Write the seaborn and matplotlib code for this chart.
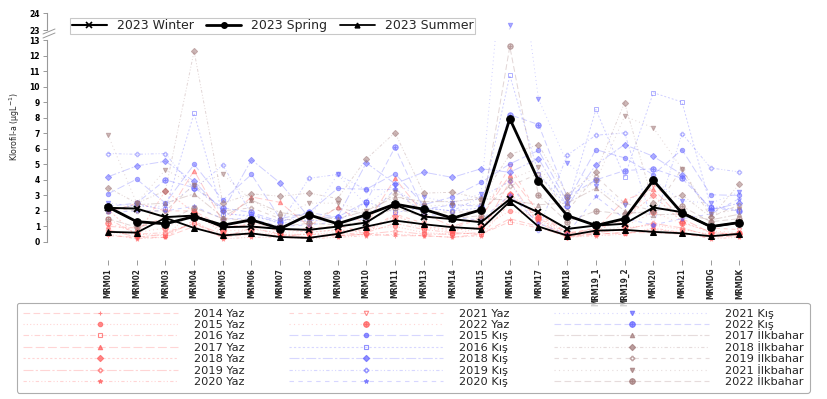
import numpy as np
import pandas as pd
import matplotlib
matplotlib.use("Agg")
import matplotlib.pyplot as plt
import seaborn as sns
from matplotlib.lines import Line2D
from matplotlib import font_manager

stations = ["MRM01", "MRM02", "MRM03", "MRM04", "MRM05", "MRM06", "MRM07", "MRM08",
            "MRM09", "MRM10", "MRM11", "MRM13", "MRM14", "MRM15", "MRM16", "MRM17",
            "MRM18", "MRM19_1", "MRM19_2", "MRM20", "MRM21", "MRMDG", "MRMDK"]

# --- historical series (Yaz = summer, Kış = winter, İlkbahar = spring) ---
yaz_2014 = [0.4, 0.3, 0.3, 1.0, 0.3, 0.5, 0.4, 0.3, 0.4, 0.5, 0.4, 0.4, 0.3, 0.5, 1.5, 1.0, 0.3, 0.5, 0.6, 0.6, 0.5, 0.3, 0.4]
yaz_2015 = [0.6, 0.5, 0.4, 2.0, 0.5, 0.6, 0.5, 0.5, 0.6, 0.8, 1.0, 0.6, 0.5, 0.9, 2.0, 1.6, 0.6, 0.6, 0.9, 1.1, 0.8, 0.5, 0.5]
yaz_2016 = [1.5, 0.5, 0.6, 1.2, 0.3, 0.9, 0.5, 0.3, 0.5, 0.6, 1.2, 0.8, 0.6, 0.5, 1.3, 0.9, 0.4, 0.5, 0.6, 0.8, 0.6, 0.3, 0.6]
yaz_2017 = [1.0, 0.9, 1.6, 4.6, 1.3, 2.9, 2.55, 1.0, 2.25, 1.1, 4.1, 1.8, 1.0, 1.6, 4.3, 1.9, 0.6, 0.8, 2.7, 3.4, 1.5, 0.6, 0.5]
yaz_2018 = [2.1, 0.4, 3.3, 1.9, 0.8, 1.2, 0.9, 0.6, 0.8, 0.6, 1.7, 1.0, 0.8, 0.9, 3.1, 1.6, 0.3, 0.7, 1.5, 3.0, 1.3, 0.6, 0.5]
yaz_2019 = [0.8, 0.3, 0.5, 1.2, 0.5, 0.5, 0.4, 0.5, 0.4, 0.5, 0.7, 0.5, 0.5, 0.6, 3.9, 1.2, 0.4, 0.6, 0.8, 1.2, 0.9, 0.4, 0.4]
yaz_2020 = [0.5, 0.2, 0.3, 1.4, 0.2, 0.3, 0.3, 0.2, 0.3, 0.4, 0.5, 0.4, 0.3, 0.4, 2.5, 1.4, 0.3, 0.4, 0.5, 0.9, 0.6, 0.2, 0.3]
yaz_2021 = [1.9, 2.5, 2.0, 2.0, 1.0, 1.1, 0.7, 0.9, 1.0, 0.7, 1.8, 1.2, 0.9, 1.5, 4.9, 1.8, 0.5, 0.9, 1.3, 3.7, 2.0, 0.9, 0.8]
yaz_2022 = [1.2, 0.6, 0.9, 1.8, 0.7, 0.8, 0.6, 0.7, 0.7, 0.9, 1.4, 0.9, 0.7, 1.0, 3.0, 1.5, 0.5, 0.7, 1.0, 1.9, 1.2, 0.7, 0.6]

kis_2015 = [3.1, 4.05, 2.5, 5.0, 2.7, 4.35, 1.5, 1.9, 3.45, 3.4, 4.4, 2.4, 2.9, 3.84, 5.03, 5.9, 2.6, 5.95, 5.42, 4.34, 5.95, 3.04, 3.0]
kis_2016 = [2.0, 2.4, 2.1, 8.3, 1.8, 1.7, 1.2, 1.4, 1.3, 2.6, 1.9, 2.2, 2.0, 2.2, 10.75, 4.4, 2.3, 8.54, 4.19, 9.62, 9.02, 2.28, 2.07]
kis_2018 = [4.2, 4.9, 5.2, 3.9, 2.0, 5.3, 3.8, 1.6, 1.6, 5.1, 3.75, 4.5, 4.16, 4.72, 4.49, 5.37, 2.3, 4.98, 6.28, 5.52, 4.34, 2.07, 2.5]
kis_2019 = [5.7, 5.65, 5.7, 3.4, 4.95, 1.8, 1.2, 4.1, 4.35, 3.35, 3.4, 2.2, 2.0, 2.9, 3.9, 0.8, 5.6, 6.88, 7.03, 1.1, 6.99, 4.77, 4.51]
kis_2020 = [1.9, 2.0, 2.0, 2.3, 1.5, 1.5, 1.0, 1.1, 1.3, 1.5, 3.4, 1.8, 1.6, 1.4, 3.04, 1.2, 0.5, 2.93, 1.5, 1.1, 1.5, 1.8, 2.8]
kis_2021 = [2.5, 2.3, 2.3, 3.6, 1.9, 1.6, 1.4, 1.5, 4.35, 2.4, 3.7, 2.9, 2.5, 3.1, 23.3, 9.2, 5.1, 3.6, 2.4, 4.0, 2.65, 2.5, 3.2]
kis_2022 = [2.3, 2.5, 4.0, 3.5, 2.2, 1.9, 1.3, 1.9, 1.6, 2.6, 6.1, 2.1, 2.4, 2.3, 8.2, 7.57, 2.9, 4.0, 4.6, 4.72, 4.1, 2.2, 2.0]

ilk_2017 = [2.0, 2.4, 2.5, 3.1, 1.6, 2.7, 1.9, 1.6, 1.5, 2.0, 2.9, 2.6, 2.6, 2.8, 2.7, 2.4, 2.5, 3.47, 2.0, 1.75, 1.8, 1.42, 1.79]
ilk_2018 = [3.5, 2.5, 3.3, 12.3, 2.5, 3.1, 2.95, 3.15, 2.8, 5.35, 7.05, 3.15, 3.2, 2.8, 5.63, 6.28, 3.04, 4.5, 8.98, 2.5, 3.04, 1.6, 3.73]
ilk_2019 = [2.2, 2.0, 2.0, 3.7, 2.0, 2.2, 1.5, 1.3, 2.2, 1.8, 3.1, 2.0, 1.9, 2.0, 3.6, 4.4, 2.0, 4.23, 2.5, 2.0, 4.72, 1.6, 2.4]
ilk_2021 = [6.9, 2.5, 4.65, 3.7, 4.35, 2.7, 1.6, 2.5, 2.5, 2.0, 3.2, 2.3, 2.4, 2.4, 4.0, 4.8, 2.7, 3.9, 8.1, 7.36, 4.72, 1.8, 2.1]
ilk_2022 = [1.5, 0.95, 1.3, 2.2, 1.5, 1.4, 1.0, 1.2, 1.1, 1.3, 2.2, 1.6, 1.5, 1.7, 12.6, 3.0, 1.3, 2.0, 1.8, 2.0, 2.3, 1.3, 1.5]

# --- 2023 series ---
winter_2023 = [2.2, 2.15, 1.6, 1.7, 0.95, 0.99, 0.84, 0.78, 0.99, 1.25, 2.4, 1.64, 1.47, 1.27, 2.76, 1.9, 0.84, 1.06, 1.17, 2.22, 1.92, 0.97, 1.25]
spring_2023 = [2.25, 1.31, 1.17, 1.64, 1.08, 1.42, 0.86, 1.75, 1.17, 1.75, 2.44, 2.11, 1.53, 2.07, 7.94, 3.95, 1.7, 1.06, 1.5, 3.97, 1.86, 0.99, 1.25]
summer_2023 = [0.65, 0.6, 1.55, 0.9, 0.42, 0.55, 0.32, 0.26, 0.52, 0.99, 1.38, 1.14, 0.95, 0.84, 2.6, 0.99, 0.41, 0.73, 0.78, 0.65, 0.56, 0.37, 0.52]

labels = ["2014 Yaz", "2015 Yaz", "2016 Yaz", "2017 Yaz", "2018 Yaz", "2019 Yaz", "2020 Yaz",
          "2021 Yaz", "2022 Yaz", "2015 Kış", "2016 Kış", "2018 Kış", "2019 Kış", "2020 Kış",
          "2021 Kış", "2022 Kış", "2017 İlkbahar", "2018 İlkbahar", "2019 İlkbahar",
          "2021 İlkbahar", "2022 İlkbahar"]
series = [yaz_2014, yaz_2015, yaz_2016, yaz_2017, yaz_2018, yaz_2019, yaz_2020, yaz_2021, yaz_2022,
          kis_2015, kis_2016, kis_2018, kis_2019, kis_2020, kis_2021, kis_2022,
          ilk_2017, ilk_2018, ilk_2019, ilk_2021, ilk_2022]

RED = (1.0, 0.35, 0.35)
BLUE = (0.38, 0.38, 1.0)
BROWN = (0.62, 0.46, 0.46)

# marker, filled?
mk_yaz = [("+", True), ("o", True), ("s", False), ("^", True), ("D", True), ("P", False), ("*", True),
          ("v", False), (r"$\oplus$", True)]
mk_kis = [("o", True), ("s", False), ("D", True), ("P", False), ("*", True), ("v", True), (r"$\oplus$", True)]
mk_ilk = [("^", True), ("D", True), ("P", False), ("v", True), (r"$\oplus$", True)]
dash_cycle = [(0, (6, 3)), (0, (1, 2)), (0, (5, 2, 1, 2)), (0, (8, 3)), (0, (2, 2)),
              (0, (9, 2, 2, 2)), (0, (3, 2, 1, 2, 1, 2)), (0, (4, 4)), (0, (1, 3))]

styles = []
for i, m in enumerate(mk_yaz):
    styles.append((RED, m, dash_cycle[i % 9]))
for i, m in enumerate(mk_kis):
    styles.append((BLUE, m, dash_cycle[(i + 3) % 9]))
for i, m in enumerate(mk_ilk):
    styles.append((BROWN, m, dash_cycle[(i + 5) % 9]))


def msize(mk):
    return 4.0 if mk.startswith("$") else 3.2


sns.set_theme(style="white")
plt.rcParams["font.family"] = ["DejaVu Sans"]

# narrow font for station labels / axis title
_names = {f.name for f in font_manager.fontManager.ttflist}
if "Liberation Sans Narrow" in _names:
    narrow = dict(family="Liberation Sans Narrow", fontsize=6.9)
else:
    narrow = dict(family="DejaVu Sans", fontstretch="condensed", fontsize=5.8)

W, H = 827, 399
fig = plt.figure(figsize=(W / 100, H / 100), dpi=100)


def fr(x0, y0, x1, y1):
    return [x0 / W, 1 - y1 / H, (x1 - x0) / W, (y1 - y0) / H]


ax = fig.add_axes(fr(47, 39.5, 760, 249.7))
axt = fig.add_axes(fr(47, 10, 760, 31), sharex=ax)
for a in (ax, axt):
    a.set_facecolor("none")
    a.grid(False)

xpos = np.arange(len(stations))
df = pd.DataFrame({"station": stations, "x": xpos})

for a in (ax, axt):
    for lab, vals, (col, (mk, filled), ls) in zip(labels, series, styles):
        d = df.assign(v=vals)
        sns.lineplot(data=d, x="x", y="v", ax=a, estimator=None, sort=False, color=col,
                     linestyle=ls, lw=0.7, alpha=0.3, legend=False, zorder=2)
        sns.lineplot(data=d, x="x", y="v", ax=a, estimator=None, sort=False, color=col,
                     linestyle="", marker=mk, markersize=msize(mk),
                     markerfacecolor=(col if filled else "none"), markeredgecolor=col,
                     markeredgewidth=0.7, alpha=0.5, legend=False, zorder=3)
    d = df.assign(w=winter_2023, s=spring_2023, u=summer_2023)
    sns.lineplot(data=d, x="x", y="w", ax=a, estimator=None, sort=False, color="black",
                 lw=1.4, marker="x", markersize=4.5, markeredgecolor="black",
                 markeredgewidth=1.4, legend=False, zorder=5)
    sns.lineplot(data=d, x="x", y="s", ax=a, estimator=None, sort=False, color="black",
                 lw=2.0, marker="o", markersize=5.5, markeredgecolor="black",
                 legend=False, zorder=6)
    sns.lineplot(data=d, x="x", y="u", ax=a, estimator=None, sort=False, color="black",
                 lw=1.3, marker="^", markersize=4.5, markeredgecolor="black",
                 legend=False, zorder=5)

# axes limits
ax.set_xlim(-2.125, (760 - 108) / 28.7)
ax.set_ylim(-0.5, 13.05)
axt.set_ylim(23 - 1 / 17, 24 + 3 / 17)

for a in (ax, axt):
    for s in ("top", "right"):
        a.spines[s].set_visible(False)
    a.spines["left"].set_color("#999999")
    a.spines["left"].set_linewidth(0.8)
    a.set_xlabel("")
    a.set_ylabel("")
axt.spines["bottom"].set_visible(False)
ax.spines["bottom"].set_position(("outward", 7.5))
ax.spines["bottom"].set_color("none")
ax.spines["left"].set_bounds(0, 13)
axt.spines["left"].set_bounds(23, 24)

ax.set_yticks(range(0, 14))
ax.set_yticklabels([str(v) for v in range(0, 14)], fontsize=5.5, fontweight="bold")
axt.set_yticks([23, 24])
axt.set_yticklabels(["23", "24"], fontsize=5.5, fontweight="bold")
for a in (ax, axt):
    a.tick_params(axis="y", which="both", left=True, direction="out", length=3, width=0.7,
                  color="#999999", pad=2, labelcolor="black")
axt.tick_params(axis="x", bottom=False, labelbottom=False)

ax.set_xticks(xpos)
ax.set_xticklabels(stations, rotation=90, va="top", ha="center", fontweight="bold", **narrow)
ax.tick_params(axis="x", bottom=True, direction="out", length=3.5, width=0.7, color="#999999",
               pad=2)

# axis break marks
for dy in (0.0, 4.0):
    fig.add_artist(Line2D([43 / W, 55 / W], [1 - (38 - dy) / H, 1 - (33 - dy) / H],
                          color="#999999", lw=0.7))

ylab_kw = dict(narrow)
ylab_kw["fontsize"] = ylab_kw["fontsize"] + 0.5
fig.text(15 / W, 1 - 127 / H, "Klorofil-a (µgL$^{-1}$)", rotation=90, ha="center", va="center",
         **ylab_kw)

# top legend (2023)
top_handles = [
    Line2D([], [], color="black", lw=1.5, marker="x", markersize=4, markeredgewidth=1.2),
    Line2D([], [], color="black", lw=2.0, marker="o", markersize=4),
    Line2D([], [], color="black", lw=1.3, marker="^", markersize=3.5),
]
leg1 = fig.legend(top_handles, ["2023 Winter", "2023 Spring", "2023 Summer"], ncol=3,
                  loc="upper left", bbox_to_anchor=(70 / W, 1 - 17.5 / H), fontsize=9,
                  frameon=True, fancybox=False, edgecolor="#bbbbbb", handlelength=2.8,
                  handletextpad=0.8, columnspacing=1.0, borderpad=0.15, borderaxespad=0)
leg1.get_frame().set_linewidth(0.8)

# bottom legend (historical)
bot_handles = []
for col, (mk, filled), ls in styles:
    bot_handles.append(Line2D([], [], color=col + (0.25,), lw=0.8, linestyle=ls, marker=mk,
                              markersize=msize(mk),
                              markerfacecolor=(col + (0.7,) if filled else "none"),
                              markeredgecolor=col + (0.7,), markeredgewidth=0.8))
leg2 = fig.legend(bot_handles, labels, ncol=3, loc="upper left",
                  bbox_to_anchor=(17 / W, 1 - 303 / H), fontsize=8.2, frameon=True,
                  fancybox=True, edgecolor="#999999", handlelength=13.6, handletextpad=1.4,
                  columnspacing=3.9, labelspacing=0.12, borderpad=0.5, borderaxespad=0)
leg2.get_frame().set_linewidth(0.8)

fig.savefig("out.png", dpi=100)
